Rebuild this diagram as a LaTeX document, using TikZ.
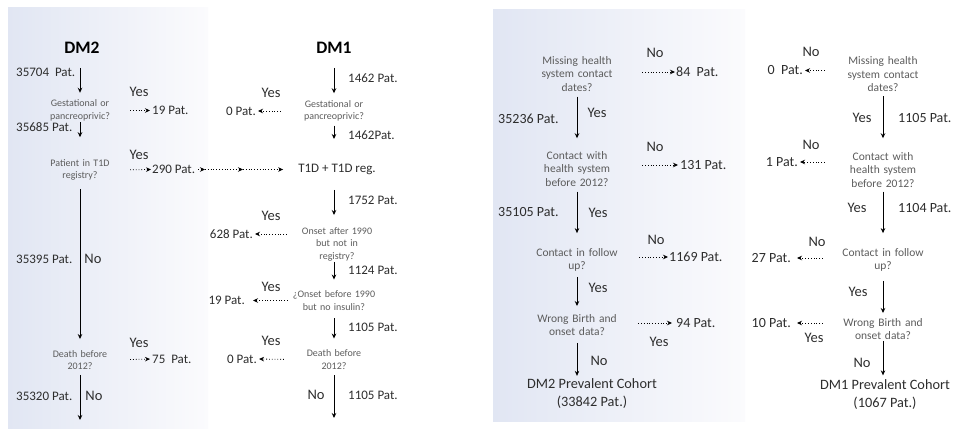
\documentclass[tikz,border=0pt]{standalone}
\usepackage{fontspec}
\setmainfont{Carlito}
\usetikzlibrary{arrows.meta}

\definecolor{panelblue}{RGB}{225,230,243}
\definecolor{panelwhite}{RGB}{251,251,253}
\definecolor{quesgray}{RGB}{92,92,92}
\definecolor{countgray}{RGB}{45,45,45}

\begin{document}
\begin{tikzpicture}
		% One unit is one pixel of the page, y runs downwards
		[x=1pt, y=-1pt,
		patcount/.style={font=\fontsize{13}{15}\selectfont, text=countgray, inner sep=1pt},
		bigcount/.style={font=\fontsize{14}{16}\selectfont, text=countgray, inner sep=1pt},
		ques/.style={font=\fontsize{10}{12.5}\selectfont, text=quesgray, align=center, text width=64pt, inner sep=1pt},
		wideques/.style={ques, text width=84pt},
		bigques/.style={font=\fontsize{11.5}{13.5}\selectfont, text=quesgray, align=center, text width=90pt, inner sep=1pt},
		answer/.style={font=\fontsize{14.5}{16}\selectfont, text=countgray, inner sep=1pt},
		head/.style={font=\fontsize{17.5}{20}\selectfont\bfseries, inner sep=1pt},
		cohort/.style={font=\fontsize{14.3}{18}\selectfont, text=countgray, align=center, inner sep=1pt},
		flow/.style={-{Stealth[length=5pt,width=4.5pt]}, line width=0.9pt},
		drop/.style={-{Stealth[length=5pt,width=4.5pt]}, dotted, line width=0.8pt}]

		\useasboundingbox (0,0) rectangle (958,438);

		% The two shaded panels
		\shade[left color=panelblue, right color=panelwhite] (8,8) rectangle (208,428);
		\shade[left color=panelblue, right color=panelwhite] (493,10) rectangle (745,421);

		% First the DM2 column
		\node[head] (dmtwo) at (82,48) {DM2};
		\node[patcount, anchor=west] (ntwoa) at (15,72) {35704\ \ Pat.};
		\node[ques] (gesttwo) at (80,110.5) {Gestational or\\pancreoprivic?};
		\node[answer] (yestwoa) at (139,92) {Yes};
		\node[patcount, anchor=west] (outnineteen) at (151,110.5) {19 Pat.};
		\node[patcount, anchor=west] (ntwob) at (15,127) {35685 Pat.};
		\node[ques] (regtwo) at (80,170) {Patient in T1D\\registry?};
		\node[answer] (yestwob) at (139,155) {Yes};
		\node[patcount, anchor=west] (outtwoninety) at (151,169.5) {290 Pat.};
		\node[patcount, anchor=west] (ntwoc) at (15,259) {35395 Pat.};
		\node[answer] (notwoa) at (93,259) {No};
		\node[ques] (deathtwo) at (80,360) {Death before\\2012?};
		\node[answer] (yestwoc) at (139,343) {Yes};
		\node[patcount, anchor=west] (outseventyfive) at (151,359) {75\ \ Pat.};
		\node[patcount, anchor=west] (ntwod) at (15,396) {35320 Pat.};
		\node[answer] (notwob) at (94,396) {No};
		\coordinate (endtwo) at (80,420);

		\draw[flow, shorten <=13pt, shorten >=6pt] (dmtwo.south -| gesttwo) -- (gesttwo.north);
		\draw[flow, shorten >=21pt] (gesttwo.south) -- (regtwo.north);
		\draw[flow, shorten <=7pt, shorten >=10pt] (regtwo.south) -- (deathtwo.north);
		\draw[flow, shorten <=4pt] (deathtwo.south) -- (endtwo);

		\draw[drop, shorten <=17pt, shorten >=1pt] (gesttwo.east) -- (outnineteen.west);
		\draw[drop, shorten <=17pt] (regtwo.east) -- (outtwoninety.west);
		\draw[drop, shorten <=17pt, shorten >=1pt] (deathtwo.east) -- (outseventyfive.west);

		% Second the DM1 column
		\node[head] (dmone) at (334,48) {DM1};
		\node[patcount, anchor=west] (nonea) at (347,78) {1462 Pat.};
		\node[wideques] (gestone) at (334,111) {Gestational or\\pancreoprivic?};
		\node[answer] (yesonea) at (271,93) {Yes};
		\node[patcount, anchor=east] (outzeroa) at (257,111) {0 Pat.};
		\node[patcount, anchor=west] (noneb) at (347,135) {1462Pat.};
		\node[patcount] (tonereg) at (337,169.5) {T1D + T1D reg.};
		\node[patcount, anchor=west] (nonec) at (347,200) {1752 Pat.};
		\node[wideques] (onsetafter) at (337,244) {Onset after 1990\\but not in\\registry?};
		\node[answer] (yesoneb) at (271,216) {Yes};
		\node[patcount, anchor=east] (outsixtwoeight) at (254,234) {628 Pat.};
		\node[patcount, anchor=west] (noned) at (347,270) {1124 Pat.};
		\node[wideques] (onsetbefore) at (334,300.5) {¿Onset before 1990\\but no insulin?};
		\node[answer] (yesonec) at (271,287) {Yes};
		\node[patcount, anchor=east] (outonenine) at (246,300.5) {19 Pat.};
		\node[patcount, anchor=west] (nonee) at (347,327) {1105 Pat.};
		\node[wideques] (deathone) at (334,359.5) {Death before\\2012?};
		\node[answer] (yesoned) at (271,341) {Yes};
		\node[patcount, anchor=east] (outzerob) at (258,359) {0 Pat.};
		\node[answer] (nonea) at (316,395) {No};
		\node[patcount, anchor=west] (nonef) at (347,395) {1105 Pat.};
		\coordinate (endone) at (334,418);

		\draw[flow, shorten <=13pt, shorten >=6pt] (dmone.south) -- (gestone.north);
		\draw[flow, shorten <=3pt, shorten >=24pt] (gestone.south) -- (gestone.south |- tonereg.north);
		\draw[flow, shorten <=14pt, shorten >=11pt] (gestone.south |- tonereg.south) -- (gestone.south |- onsetafter.north);
		\draw[flow, shorten >=10pt] (gestone.south |- onsetafter.south) -- (onsetbefore.north);
		\draw[flow, shorten <=7pt, shorten >=10pt] (onsetbefore.south) -- (deathone.north);
		\draw[flow, shorten <=5pt] (deathone.south) -- (endone);

		\draw[drop, shorten <=10pt, shorten >=1pt] (gestone.west) -- (outzeroa.east);
		\draw[drop, shorten <=7pt, shorten >=1pt] ([yshift=10pt]onsetafter.west) -- (outsixtwoeight.east);
		\draw[drop, shorten <=3pt, shorten >=7pt] (onsetbefore.west) -- (outonenine.east);
		\draw[drop, shorten <=7pt, shorten >=1pt] (deathone.west) -- (outzerob.east);

		% The patients found in the T1D registry join the DM1 column
		\coordinate (hopa) at (205,169.5);
		\coordinate (hopb) at (243,169.5);
		\draw[drop, shorten <=2pt] (outtwoninety.east) -- (hopa);
		\draw[drop] (hopa) -- (hopb);
		\draw[drop, shorten >=14pt] (hopb) -- (tonereg.west);

		% Now the DM2 cleaning steps
		\node[bigques] (misstwo) at (577,74) {Missing health\\system contact\\dates?};
		\node[answer] (notwoc) at (655,53) {No};
		\node[bigcount, anchor=west] (outeightyfour) at (675,72) {84\ \ Pat.};
		\node[bigcount, anchor=west] (ntwoe) at (497,119) {35236 Pat.};
		\node[answer] (yestwod) at (597,113) {Yes};
		\node[bigques] (conttwo) at (577,169) {Contact with\\health system\\before 2012?};
		\node[answer] (notwod) at (655,147) {No};
		\node[bigcount, anchor=west] (outonethirtyone) at (679,165) {131 Pat.};
		\node[bigcount, anchor=west] (ntwof) at (497,212) {35105 Pat.};
		\node[answer] (yestwoe) at (598,213) {Yes};
		\node[bigques] (follotwo) at (577,260) {Contact in follow\\up?};
		\node[answer] (notwoe) at (656,240) {No};
		\node[bigcount, anchor=west] (outelevensixtynine) at (668,257) {1169 Pat.};
		\node[answer] (yestwof) at (598,288) {Yes};
		\node[bigques] (wrongtwo) at (577,325) {Wrong Birth and\\onset data?};
		\node[bigcount, anchor=west] (outninetyfour) at (675,323) {94 Pat.};
		\node[answer] (yestwog) at (659,342) {Yes};
		\node[answer] (notwof) at (599,361) {No};
		\node[cohort] (cohorttwo) at (592,394) {DM2 Prevalent Cohort\\(33842 Pat.)};

		\draw[flow, shorten <=4pt, shorten >=12pt] (misstwo.south) -- (conttwo.north);
		\draw[flow, shorten <=4pt, shorten >=14pt] (conttwo.south) -- (follotwo.north);
		\draw[flow, shorten <=4pt, shorten >=7pt] (follotwo.south) -- (wrongtwo.north);
		\draw[flow, shorten <=6pt, shorten >=2pt] (wrongtwo.south) -- (wrongtwo.south |- cohorttwo.north);

		\draw[drop, shorten <=19pt] ([yshift=2pt]misstwo.east) -- (outeightyfour.west);
		\draw[drop, shorten <=19pt, shorten >=1pt] ([yshift=4pt]conttwo.east) -- (outonethirtyone.west);
		\draw[drop, shorten <=16pt] ([yshift=3pt]follotwo.east) -- (outelevensixtynine.west);
		\draw[drop, shorten <=15pt, shorten >=3pt] ([yshift=2pt]wrongtwo.east) -- (outninetyfour.west);

		% And the DM1 cleaning steps
		\node[bigques] (missone) at (883,74.5) {Missing health\\system contact\\dates?};
		\node[answer] (nonec) at (811,52) {No};
		\node[bigcount, anchor=east] (outzeroc) at (804,70.5) {0\ \ Pat.};
		\node[answer] (yesonee) at (862,118) {Yes};
		\node[bigcount, anchor=west] (noneg) at (897,118) {1105 Pat.};
		\node[bigques] (contone) at (883,170) {Contact with\\health system\\before 2012?};
		\node[answer] (noned) at (811,145) {No};
		\node[bigcount, anchor=east] (outone) at (799,162) {1 Pat.};
		\node[answer] (yesonef) at (857,208) {Yes};
		\node[bigcount, anchor=west] (noneh) at (897,208) {1104 Pat.};
		\node[bigques] (follone) at (883,260) {Contact in follow\\up?};
		\node[answer] (nonee) at (817,242) {No};
		\node[bigcount, anchor=east] (outtwentyseven) at (792,258) {27 Pat.};
		\node[answer] (yesoneg) at (858,292) {Yes};
		\node[bigques] (wrongone) at (883,329) {Wrong Birth and\\onset data?};
		\node[bigcount, anchor=east] (outten) at (792,323) {10 Pat.};
		\node[answer] (yesoneh) at (814,338) {Yes};
		\node[answer] (nonef) at (862,363) {No};
		\node[cohort] (cohortone) at (885,394.5) {DM1 Prevalent Cohort\\(1067 Pat.)};

		\draw[flow, shorten <=3pt, shorten >=13pt] (missone.south) -- (contone.north);
		\draw[flow, shorten <=3pt, shorten >=14pt] (contone.south) -- (follone.north);
		\draw[flow, shorten <=8pt, shorten >=4pt] (follone.south) -- (wrongone.north);
		\draw[flow, shorten >=3pt] (wrongone.south) -- (wrongone.south |- cohortone.north);

		\draw[drop, shorten <=12pt, shorten >=1pt] ([yshift=4pt]missone.west) -- (outzeroc.east);
		\draw[drop, shorten <=12pt, shorten >=1pt] ([yshift=8pt]contone.west) -- (outone.east);
		\draw[drop, shorten <=14pt, shorten >=5pt] ([yshift=2pt]follone.west) -- (outtwentyseven.east);
		\draw[drop, shorten <=14pt, shorten >=5pt] ([yshift=6pt]wrongone.west) -- (outten.east);
	\end{tikzpicture}
\end{document}
